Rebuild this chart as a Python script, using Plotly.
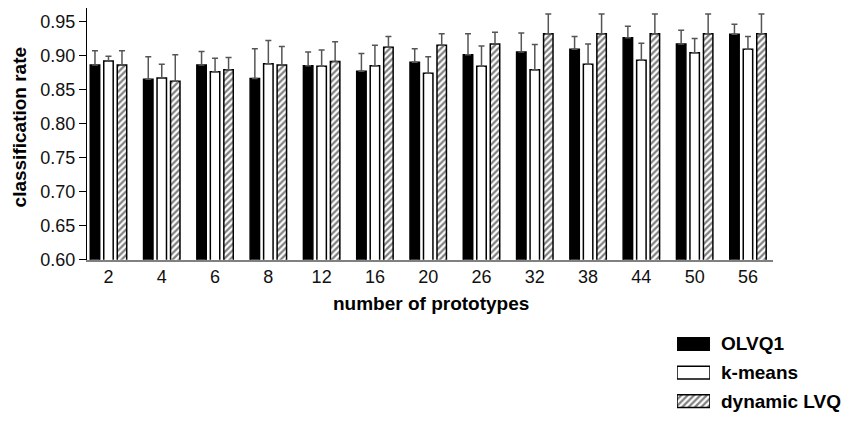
import plotly.graph_objects as go

# Number of prototypes (x categories)
prototypes = ["2", "4", "6", "8", "12", "16", "20", "26", "32", "38", "44", "50", "56"]

# Mean classification rates per method
olvq1 = [0.886, 0.865, 0.886, 0.866, 0.885, 0.877, 0.890, 0.901, 0.905, 0.909, 0.926, 0.917, 0.931]
kmeans = [0.892, 0.867, 0.876, 0.888, 0.884, 0.885, 0.874, 0.884, 0.879, 0.887, 0.893, 0.904, 0.909]
dynamic_lvq = [0.886, 0.862, 0.879, 0.886, 0.891, 0.912, 0.915, 0.917, 0.932, 0.932, 0.932, 0.932, 0.932]

# Standard deviations (drawn as upper error bars)
olvq1_sd = [0.021, 0.033, 0.020, 0.044, 0.020, 0.026, 0.020, 0.031, 0.028, 0.019, 0.017, 0.020, 0.015]
kmeans_sd = [0.007, 0.020, 0.020, 0.034, 0.024, 0.030, 0.024, 0.030, 0.037, 0.030, 0.025, 0.021, 0.019]
dynamic_sd = [0.021, 0.039, 0.018, 0.027, 0.029, 0.016, 0.017, 0.017, 0.029, 0.029, 0.029, 0.029, 0.029]

method_names = ["OLVQ1", "k-means", "dynamic LVQ"]

FONT = "Liberation Sans, Arial, Helvetica, sans-serif"
W, H = 855, 424

styles = [
    dict(color="black", line=dict(color="black", width=1.5)),
    dict(color="white", line=dict(color="black", width=1.5)),
    dict(color="white", line=dict(color="black", width=1.5),
         pattern=dict(shape="/", fgcolor="black", bgcolor="white", size=4.5, solidity=0.5)),
]

fig = go.Figure()

for name, vals, sd, st in zip(method_names, [olvq1, kmeans, dynamic_lvq],
                              [olvq1_sd, kmeans_sd, dynamic_sd], styles):
    fig.add_trace(go.Bar(
        x=prototypes, y=vals, name=name, marker=st, showlegend=False,
        error_y=dict(type="data", symmetric=False, array=sd,
                     arrayminus=[0] * len(sd), color="#555555",
                     thickness=1.5, width=3),
        xaxis="x", yaxis="y",
    ))

# Legend swatches as small horizontal bars on their own axes
legend_rows = [2, 1, 0]
for name, row, st in zip(method_names, legend_rows, styles):
    fig.add_trace(go.Bar(
        x=[1], y=[row], base=0, orientation="h", width=0.444,
        marker=st, showlegend=False, hoverinfo="skip",
        xaxis="x2", yaxis="y2",
    ))
    py = 424 - (row + 0.451) * 29.25
    fig.add_annotation(
        text=f"<b>{name}</b>", xref="paper", yref="paper",
        x=719 / W, y=(H - py) / H, xanchor="left", yanchor="middle",
        showarrow=False, font=dict(family=FONT, size=19, color="black"),
    )

fig.add_annotation(
    text="<b>classification rate</b>", xref="paper", yref="paper",
    x=19.5 / W, y=(H - 130) / H, textangle=-90, showarrow=False,
    xanchor="center", yanchor="middle",
    font=dict(family=FONT, size=19, color="black"),
)
fig.add_annotation(
    text="<b>number of prototypes</b>", xref="paper", yref="paper",
    x=430.6 / W, y=(H - 311) / H, showarrow=False,
    xanchor="center", yanchor="middle",
    font=dict(family=FONT, size=19, color="black"),
)

fig.update_layout(
    width=W, height=H,
    margin=dict(l=0, r=0, t=0, b=0),
    paper_bgcolor="white", plot_bgcolor="white",
    barmode="group", bargap=0.24, bargroupgap=0.3,
    font=dict(family=FONT, size=18, color="#111111"),
    xaxis=dict(
        domain=[87 / W, 773 / W], type="category",
        range=[-0.403, 12.47], showgrid=False, zeroline=False,
        showline=True, linecolor="#808080", linewidth=2,
        ticks="", tickfont=dict(size=18),
    ),
    yaxis=dict(
        domain=[(H - 266) / H, (H - 8) / H], range=[0.6, 0.97],
        tickvals=[0.60, 0.65, 0.70, 0.75, 0.80, 0.85, 0.90, 0.95],
        tickformat=".2f", showgrid=False, zeroline=False,
        showline=True, linecolor="black", linewidth=1,
        ticks="outside", ticklen=7, tickcolor="black", tickwidth=1,
        tickfont=dict(size=18),
    ),
    xaxis2=dict(domain=[677 / W, 710 / W], range=[0, 1], anchor="y2",
                visible=False, fixedrange=True),
    yaxis2=dict(domain=[0, 106 / H], range=[-0.451, 3.173], anchor="x2",
                visible=False, fixedrange=True),
)

fig.write_html("out.html")
